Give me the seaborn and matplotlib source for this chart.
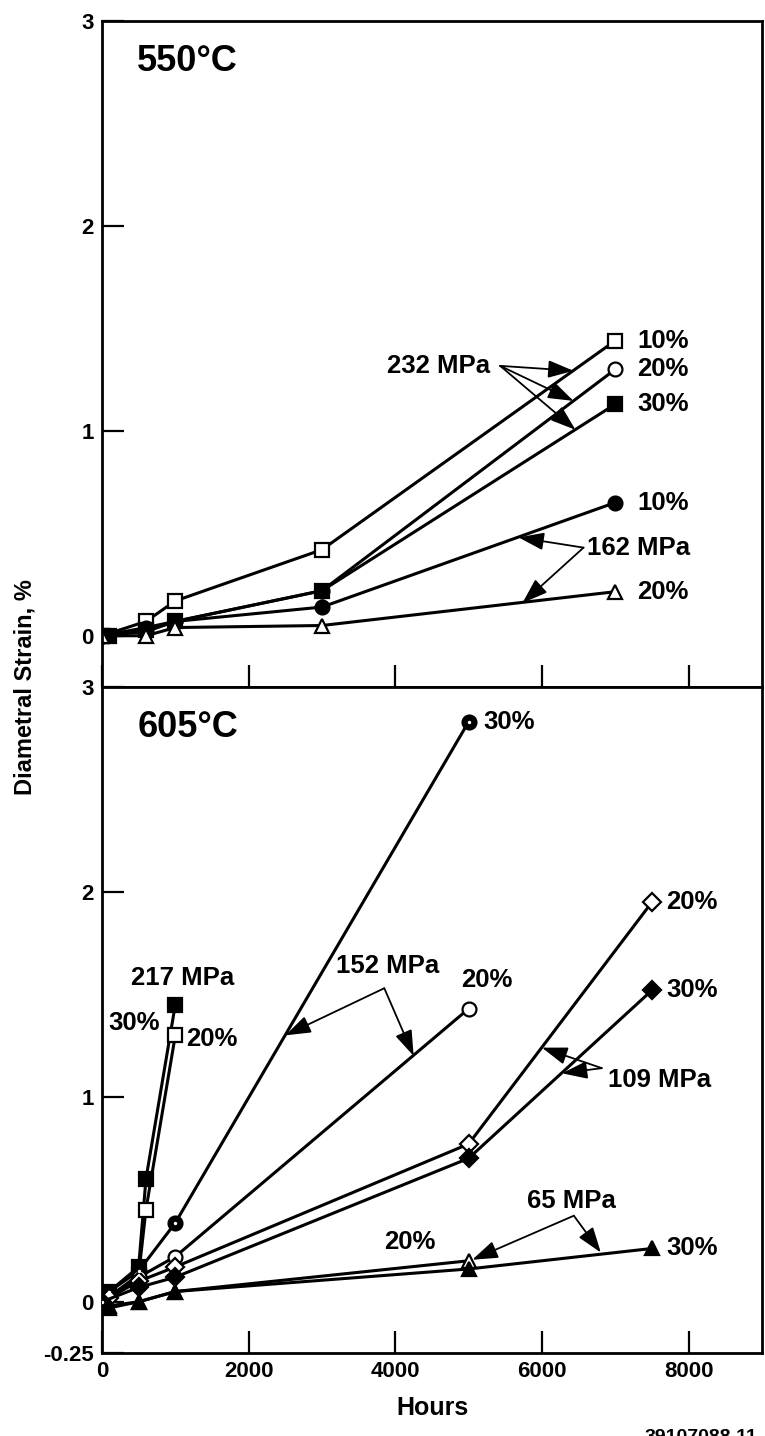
import matplotlib
matplotlib.use("Agg")
import matplotlib.pyplot as plt
import seaborn as sns

sns.set_theme(style="white")
plt.rcParams["font.family"] = ["Liberation Sans", "DejaVu Sans"]
plt.rcParams["font.weight"] = "bold"
plt.rcParams["text.color"] = "black"
plt.rcParams["axes.labelcolor"] = "black"
plt.rcParams["xtick.color"] = "black"
plt.rcParams["ytick.color"] = "black"

# ---- 550 C data (hours, diametral strain %) ----
h550_232_10 = [0, 600, 1000, 3000, 7000]
s550_232_10 = [0.0, 0.07, 0.17, 0.42, 1.44]
h550_232_20 = [0, 600, 1000, 3000, 7000]
s550_232_20 = [0.0, 0.04, 0.07, 0.22, 1.30]
h550_232_30 = [0, 100, 600, 1000, 3000, 7000]
s550_232_30 = [0.0, 0.0, 0.03, 0.07, 0.22, 1.13]
h550_162_10 = [0, 600, 1000, 3000, 7000]
s550_162_10 = [0.0, 0.02, 0.07, 0.14, 0.65]
h550_162_20 = [0, 600, 1000, 3000, 7000]
s550_162_20 = [0.0, 0.0, 0.04, 0.05, 0.215]

# ---- 605 C data ----
h605_217_30 = [0, 100, 500, 600, 1000]
s605_217_30 = [0.0, 0.05, 0.17, 0.60, 1.45]
h605_217_20 = [0, 500, 600, 1000]
s605_217_20 = [0.0, 0.13, 0.45, 1.30]
h605_152_30 = [0, 100, 500, 1000, 5000]
s605_152_30 = [0.0, 0.05, 0.15, 0.385, 2.83]
h605_152_20 = [0, 500, 1000, 5000]
s605_152_20 = [0.0, 0.12, 0.22, 1.43]
h605_109_20 = [0, 100, 500, 1000, 5000, 7500]
s605_109_20 = [0.0, 0.02, 0.10, 0.17, 0.77, 1.95]
h605_109_30 = [0, 500, 1000, 5000, 7500]
s605_109_30 = [0.0, 0.07, 0.12, 0.70, 1.52]
h605_65_20 = [0, 100, 500, 1000, 5000]
s605_65_20 = [0.0, -0.02, 0.0, 0.05, 0.20]
h605_65_30 = [0, 100, 500, 1000, 5000, 7500]
s605_65_30 = [0.0, -0.03, 0.0, 0.05, 0.16, 0.26]

x_ticks = [0, 2000, 4000, 6000, 8000]
y_ticks_top = [0, 1, 2, 3]
y_ticks_bot = [-0.25, 0, 1, 2, 3]
y_labels_bot = ["-0.25", "0", "1", "2", "3"]

LW = 2.2
MS = 10
TICK_FS = 16
NOTE_FS = 18.5

fig = plt.figure(figsize=(7.65, 14.36), dpi=100)
ax_top = fig.add_axes([0.1333, 0.5216, 0.8627, 0.4638])
ax_bot = fig.add_axes([0.1333, 0.0578, 0.8627, 0.4638])


def series(ax, x, y, marker, filled, ms=MS, dot=False):
    sns.lineplot(x=x, y=y, ax=ax, color="black", linewidth=LW, marker=marker,
                 markersize=ms, markerfacecolor="black" if filled else "white",
                 markeredgecolor="black", markeredgewidth=1.6, estimator=None,
                 sort=False, legend=False)
    if dot:
        sns.scatterplot(x=x, y=y, ax=ax, color="white", s=6, linewidth=0,
                        legend=False, zorder=5)


def arrow(ax, start, tip):
    ax.annotate("", xy=tip, xytext=start,
                arrowprops=dict(arrowstyle="-|>,head_length=1.3,head_width=0.45",
                                color="black", lw=1.3, shrinkA=0, shrinkB=0))


def note(ax, x, y, s, ha="left", size=NOTE_FS):
    ax.text(x, y, s, fontsize=size, fontweight="bold", ha=ha, va="center",
            color="black")


# ---- top panel: 550 C ----
series(ax_top, h550_232_10, s550_232_10, "s", False)
series(ax_top, h550_232_20, s550_232_20, "o", False)
series(ax_top, h550_232_30, s550_232_30, "s", True)
series(ax_top, h550_162_10, s550_162_10, "o", True)
series(ax_top, h550_162_20, s550_162_20, "^", False)

note(ax_top, 480, 2.80, "550°C", size=26)
for yv, lab in [(s550_232_10[-1], "10%"), (s550_232_20[-1], "20%"),
                (s550_232_30[-1], "30%"), (s550_162_10[-1], "10%"),
                (s550_162_20[-1], "20%")]:
    note(ax_top, 7300, yv, lab)

note(ax_top, 5300, 1.317, "232 MPa", ha="right")
for tip in [(6430, 1.293), (6430, 1.146), (6457, 1.005)]:
    arrow(ax_top, (5430, 1.317), tip)
note(ax_top, 6621, 0.43, "162 MPa")
for tip in [(5680, 0.48), (5734, 0.16)]:
    arrow(ax_top, (6567, 0.43), tip)

# ---- bottom panel: 605 C ----
series(ax_bot, h605_217_30, s605_217_30, "s", True)
series(ax_bot, h605_217_20, s605_217_20, "s", False)
series(ax_bot, h605_152_30, s605_152_30, "o", True, dot=True)
series(ax_bot, h605_152_20, s605_152_20, "o", False)
series(ax_bot, h605_109_20, s605_109_20, "D", False, ms=9)
series(ax_bot, h605_109_30, s605_109_30, "D", True, ms=9)
series(ax_bot, h605_65_20, s605_65_20, "^", False)
series(ax_bot, h605_65_30, s605_65_30, "^", True)

note(ax_bot, 480, 2.80, "605°C", size=26)

note(ax_bot, 1100, 1.58, "217 MPa", ha="center")
note(ax_bot, 90, 1.36, "30%")
note(ax_bot, 1150, 1.28, "20%")

note(ax_bot, 5200, 2.83, "30%")
note(ax_bot, 5250, 1.57, "20%", ha="center")
note(ax_bot, 4600, 1.64, "152 MPa", ha="right")
for tip in [(2500, 1.30), (4250, 1.20)]:
    arrow(ax_bot, (3850, 1.53), tip)

note(ax_bot, 7700, 1.95, "20%")
note(ax_bot, 7700, 1.52, "30%")
note(ax_bot, 6900, 1.08, "109 MPa")
for tip in [(6000, 1.24), (6272, 1.115)]:
    arrow(ax_bot, (6816, 1.14), tip)

note(ax_bot, 5800, 0.49, "65 MPa")
note(ax_bot, 3850, 0.29, "20%")
note(ax_bot, 7690, 0.26, "30%")
for tip in [(5050, 0.205), (6803, 0.24)]:
    arrow(ax_bot, (6435, 0.42), tip)

# ---- axes styling ----
for ax in (ax_top, ax_bot):
    ax.set_xlim(0, 9000)
    ax.set_ylim(-0.25, 3)
    ax.set_xticks(x_ticks)
    for sp in ax.spines.values():
        sp.set_visible(True)
        sp.set_color("black")
        sp.set_linewidth(2.0)
    ax.tick_params(axis="both", direction="in", length=16, width=1.6,
                   colors="black", labelsize=TICK_FS, left=True, bottom=True,
                   top=False, right=False, pad=6)
    ax.set_xlabel("")
    ax.set_ylabel("")

ax_top.set_yticks(y_ticks_top)
ax_top.set_yticklabels([str(v) for v in y_ticks_top], fontweight="bold")
ax_top.set_xticklabels([])
ax_bot.set_yticks(y_ticks_bot)
ax_bot.set_yticklabels(y_labels_bot, fontweight="bold")
ax_bot.set_xticklabels([str(v) for v in x_ticks], fontweight="bold")

fig.text(0.033, 1 - 687 / 1436, "Diametral Strain, %", rotation=90,
         fontsize=17, fontweight="bold", ha="center", va="center")
fig.text(0.565, 1 - 1408 / 1436, "Hours", fontsize=18, fontweight="bold",
         ha="center", va="center")
fig.text(0.99, 1 - 1438 / 1436, "39107088.11", fontsize=14, fontweight="bold",
         ha="right", va="center")

fig.savefig("out.png", dpi=100)
